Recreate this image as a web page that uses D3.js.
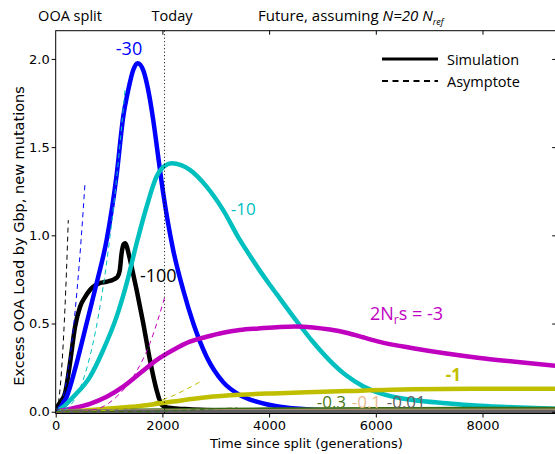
<!DOCTYPE html>
<html><head><meta charset="utf-8">
<script src="https://cdn.jsdelivr.net/npm/d3@7"></script>
<style>body{margin:0;background:#fff} svg{display:block}</style>
</head><body>
<svg id="c" width="555" height="454"></svg>
<script>
// ---- data ----
const xTicks = [0, 2000, 4000, 6000, 8000];
const yTicks = [0, 0.5, 1.0, 1.5, 2.0];
const topTicks = [2000, 4000, 6000, 8000];
const todayGen = 2040;

const gen100 = [0, 19, 100, 174, 268, 362, 455, 550, 642, 830, 955, 1100, 1160, 1200, 1236, 1275, 1300, 1330, 1360, 1423, 1517, 1640, 1766, 1891, 1985, 2079, 2200, 2500, 2800, 3500, 5000, 9400];
const load100 = [0, 0.019, 0.06, 0.104, 0.276, 0.48, 0.594, 0.65, 0.69, 0.73, 0.737, 0.752, 0.765, 0.8, 0.9, 0.95, 0.955, 0.94, 0.905, 0.822, 0.69, 0.503, 0.293, 0.123, 0.04, 0.025, 0.02, 0.014, 0.01, 0.005, 0.002, 0];

const gen30 = [0, 100, 206, 393, 581, 768, 955, 1142, 1266, 1360, 1453, 1536, 1640, 1734, 1828, 1921, 2015, 2202, 2390, 2577, 2828, 3139, 3451, 3764, 4200, 4700, 5500, 6500, 9400];
const load30 = [0, 0.03, 0.085, 0.276, 0.503, 0.73, 0.974, 1.342, 1.673, 1.824, 1.937, 1.976, 1.937, 1.824, 1.654, 1.446, 1.24, 0.917, 0.69, 0.503, 0.312, 0.168, 0.095, 0.057, 0.028, 0.014, 0.006, 0.003, 0.001];

const gen10 = [0, 150, 330, 642, 891, 1142, 1330, 1517, 1704, 1891, 2050, 2172, 2350, 2515, 2828, 3139, 3451, 3640, 3826, 4013, 4200, 4513, 4824, 5137, 5449, 5760, 6073, 6697, 7322, 7946, 8569, 9400];
const load10 = [0, 0.03, 0.085, 0.198, 0.35, 0.539, 0.728, 0.955, 1.162, 1.333, 1.395, 1.408, 1.398, 1.371, 1.276, 1.143, 0.974, 0.885, 0.8, 0.72, 0.643, 0.515, 0.395, 0.29, 0.205, 0.145, 0.106, 0.066, 0.048, 0.034, 0.025, 0.017];

const gen3 = [0, 330, 642, 955, 1266, 1579, 1891, 2202, 2515, 2828, 3139, 3451, 3800, 4200, 4500, 4824, 5137, 5449, 5760, 6073, 6697, 7322, 7946, 8569, 9400];
const load3 = [0, 0.02, 0.045, 0.085, 0.142, 0.218, 0.293, 0.35, 0.397, 0.425, 0.448, 0.463, 0.472, 0.481, 0.483, 0.478, 0.466, 0.448, 0.422, 0.396, 0.36, 0.33, 0.305, 0.285, 0.26];

const gen1 = [0, 500, 1000, 1579, 2202, 2828, 3451, 4075, 4700, 5449, 6697, 7946, 9400];
const load1 = [0, 0.006, 0.018, 0.032, 0.058, 0.082, 0.096, 0.104, 0.11, 0.117, 0.127, 0.13, 0.131];

const gen03 = [0, 1000, 2000, 3000, 4000, 5000, 6000, 7500, 9400];
const load03 = [0, 0.003, 0.007, 0.01, 0.012, 0.013, 0.014, 0.015, 0.016];

const gen01 = [0, 2000, 4000, 6000, 9400];
const load01 = [0, 0.002, 0.003, 0.004, 0.004];

const gen001 = [0, 9400];
const load001 = [0, 0.0005];

// asymptotes (dashed)
const asymGen100 = [0, 50, 100, 150, 200, 236];
const asymLoad100 = [0, 0.049, 0.195, 0.439, 0.78, 1.086];
const asymGen30 = [0, 100, 200, 300, 400, 480, 549];
const asymLoad30 = [0, 0.043, 0.172, 0.387, 0.688, 0.99, 1.296];
const asymGen10 = [0, 200, 400, 600, 800, 1000, 1150, 1300];
const asymLoad10 = [0, 0.017, 0.096, 0.265, 0.543, 0.95, 1.347, 1.83];
const asymGen3 = [0, 400, 600, 830, 1142, 1453, 1766, 2046];
const asymLoad3 = [0, 0.002, 0.006, 0.021, 0.085, 0.198, 0.388, 0.652];
const asymGen1 = [0, 1000, 1500, 1766, 2079, 2400, 2764];
const asymLoad1 = [0, 0.008, 0.028, 0.048, 0.076, 0.12, 0.18];
const asymGen03 = [0, 1500, 2000, 2500, 2800, 3100, 3400];
const asymLoad03 = [0, 0.001, 0.004, 0.009, 0.014, 0.018, 0.022];

const seriesNames = ["-100", "-30", "-10", "-3", "-1", "-0.3", "-0.1", "-0.01"];
const seriesColors = ["#000000", "#0000ff", "#00bfbf", "#bf00bf", "#bfbf00", "#3a6b12", "#e6b88c", "#5f5f5f"];

// ---- chart ----
const svg = d3.select("#c");
const x = d3.scaleLinear().domain([0, 9400]).range([55.7, 557.2]);
const y = d3.scaleLinear().domain([-0.01, 2.16]).range([413.5, 30.7]);

svg.append("defs").append("clipPath").attr("id", "clip")
  .append("rect").attr("x", x(0)).attr("y", y(2.16)).attr("width", x(9400) - x(0)).attr("height", y(-0.01) - y(2.16));

const zip = (g, v) => g.map((d, i) => [d, v[i]]);
const sims = [zip(gen100, load100), zip(gen30, load30), zip(gen10, load10), zip(gen3, load3), zip(gen1, load1), zip(gen03, load03), zip(gen01, load01), zip(gen001, load001)];
const asyms = [zip(asymGen100, asymLoad100), zip(asymGen30, asymLoad30), zip(asymGen10, asymLoad10), zip(asymGen3, asymLoad3), zip(asymGen1, asymLoad1), zip(asymGen03, asymLoad03)];

const line = d3.line().x(d => x(d[0])).y(d => y(d[1])).curve(d3.curveMonotoneX);
const plot = svg.append("g").attr("clip-path", "url(#clip)");

sims.forEach((s, i) => {
  plot.append("path").datum(s).attr("d", line).attr("fill", "none")
    .attr("stroke", seriesColors[i]).attr("stroke-width", 4.5).attr("stroke-linejoin", "round");
});
asyms.forEach((s, i) => {
  plot.append("path").datum(s).attr("d", line).attr("fill", "none")
    .attr("stroke", seriesColors[i]).attr("stroke-width", 1).attr("stroke-dasharray", "5,4");
});

// today line
svg.append("line").attr("x1", x(todayGen)).attr("x2", x(todayGen)).attr("y1", y(2.16)).attr("y2", y(-0.01))
  .attr("stroke", "#000").attr("stroke-width", 1).attr("stroke-dasharray", "1,2.5");

// axes
const tickFont = "DejaVu Sans, sans-serif";
const ax = (g) => { g.select(".domain").remove(); g.selectAll("text").attr("font-family", tickFont).attr("font-size", 13).attr("fill", "#000"); g.selectAll("line").attr("stroke", "#000"); };
svg.append("g").attr("transform", `translate(${x(0)},0)`)
  .call(d3.axisLeft(y).tickValues(yTicks).tickSize(4).tickPadding(2).tickFormat(d3.format(".1f"))).call(ax);
svg.append("g").attr("transform", `translate(0,${y(-0.01)})`)
  .call(d3.axisBottom(x).tickValues(xTicks).tickSize(4).tickPadding(3).tickFormat(d3.format("d"))).call(ax);
svg.append("g").attr("transform", `translate(0,${y(2.16)})`)
  .call(d3.axisBottom(x).tickValues(topTicks).tickSize(4).tickFormat("")).call(ax);
svg.append("g").attr("transform", `translate(${x(9400)},0)`)
  .call(d3.axisLeft(y).tickValues(yTicks).tickSize(5).tickFormat("")).call(ax);
svg.append("rect").attr("x", x(0)).attr("y", y(2.16)).attr("width", x(9400) - x(0)).attr("height", y(-0.01) - y(2.16))
  .attr("fill", "none").attr("stroke", "#000").attr("stroke-width", 1);

// axis titles
svg.append("text").attr("x", (x(0) + x(9400)) / 2).attr("y", 448).attr("text-anchor", "middle")
  .attr("font-family", tickFont).attr("font-size", 13).text("Time since split (generations)");
svg.append("text").attr("transform", `translate(24,236) rotate(-90)`).attr("text-anchor", "middle")
  .attr("font-family", tickFont).attr("font-size", 14.5).text("Excess OOA Load by Gbp, new mutations");

// top labels
const lab = "Open Sans, sans-serif";
svg.append("text").attr("x", 70).attr("y", 21).attr("text-anchor", "middle").attr("font-family", lab).attr("font-size", 14.5).text("OOA split");
svg.append("text").attr("x", 172).attr("y", 21).attr("text-anchor", "middle").attr("font-family", lab).attr("font-size", 14.5).text("Today");
const fut = svg.append("text").attr("x", 258).attr("y", 21).attr("font-family", lab).attr("font-size", 15);
fut.append("tspan").text("Future, assuming ");
fut.append("tspan").attr("font-style", "italic").text("N=20 N");
fut.append("tspan").attr("font-style", "italic").attr("font-size", 9).attr("dy", 4).text("ref");

// series labels
const sl = (gen, val, txt, col, anchor, size, bold) => svg.append("text").attr("x", x(gen)).attr("y", y(val))
  .attr("text-anchor", anchor).attr("font-family", lab).attr("font-size", size).attr("fill", col)
  .attr("font-weight", bold ? "bold" : "normal").text(txt);
sl(1374, 2.022, seriesNames[1], seriesColors[1], "middle", 18);
sl(3514, 1.115, seriesNames[2], seriesColors[2], "middle", 17);
sl(1580, 0.735, seriesNames[0], seriesColors[0], "start", 18);
const m = svg.append("text").attr("x", x(5890)).attr("y", y(0.52)).attr("font-family", lab).attr("font-size", 18).attr("fill", seriesColors[3]);
m.append("tspan").text("2N");
m.append("tspan").attr("font-size", 12).attr("dy", 4).text("r");
m.append("tspan").attr("dy", -4).text("s = " + seriesNames[3]);
sl(7310, 0.174, seriesNames[4], seriesColors[4], "start", 17, true);
sl(4892, 0.021, seriesNames[5], "#4a7a22", "start", 17);
sl(5548, 0.021, seriesNames[6], "#e9b98e", "start", 17);
sl(6204, 0.021, seriesNames[7], "#5f5f5f", "start", 17);

// legend
const lg = svg.append("g");
lg.append("line").attr("x1", 382).attr("x2", 438).attr("y1", 59).attr("y2", 59).attr("stroke", "#000").attr("stroke-width", 3);
lg.append("line").attr("x1", 382).attr("x2", 438).attr("y1", 81).attr("y2", 81).attr("stroke", "#000").attr("stroke-width", 2).attr("stroke-dasharray", "6,4.5");
lg.append("text").attr("x", 447).attr("y", 64.5).attr("font-family", lab).attr("font-size", 14.5).text("Simulation");
lg.append("text").attr("x", 447).attr("y", 86.5).attr("font-family", lab).attr("font-size", 14.5).text("Asymptote");
</script>
</body></html>
